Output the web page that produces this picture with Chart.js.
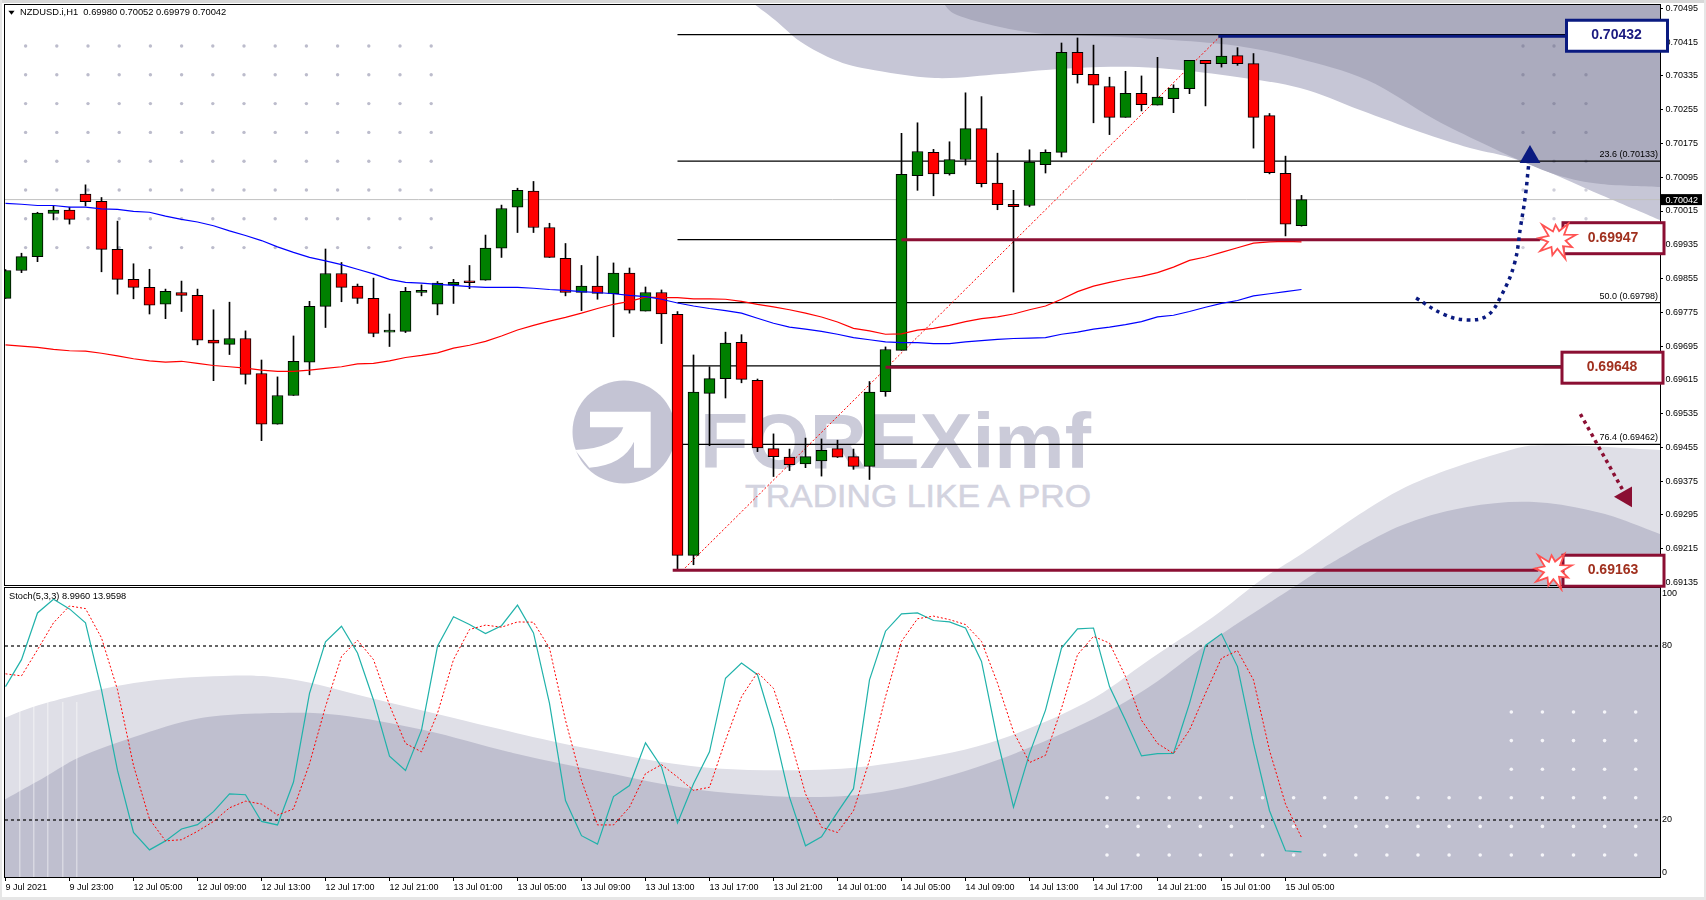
<!DOCTYPE html>
<html>
<head>
<meta charset="utf-8">
<title>NZDUSD.i,H1</title>
<script src="https://cdn.jsdelivr.net/npm/chart.js@4/dist/chart.umd.min.js"></script>
<style>
html,body{margin:0;padding:0;background:#fff;overflow:hidden}
#page{position:relative;width:1706px;height:900px;overflow:hidden;background:#fff}
#bg,#main,#stoch{position:absolute;left:0}
#bg{top:0;z-index:1}
#stoch{top:587px;z-index:2}
#main{top:0;z-index:3}
</style>
</head>
<body>
<div id="page">
<svg id="bg" width="1706" height="900" xmlns="http://www.w3.org/2000/svg"></svg>
<canvas id="stoch" width="1706" height="313"></canvas>
<canvas id="main" width="1706" height="592"></canvas>
</div>
<script>
// candles, one entry per hour
const opens=[0.69808,0.69874,0.69907,0.70009,0.70017,0.70055,0.70038,0.69924,0.69853,0.69834,0.69794,0.69822,0.69815,0.69709,0.69699,0.69713,0.69630,0.69510,0.69578,0.69657,0.69789,0.69867,0.69837,0.69808,0.69728,0.69730,0.69822,0.69794,0.69840,0.69846,0.69851,0.69927,0.70024,0.70062,0.69976,0.69903,0.69822,0.69837,0.69819,0.69868,0.69778,0.69822,0.69770,0.69199,0.69583,0.69618,0.69704,0.69614,0.69452,0.69432,0.69416,0.69423,0.69452,0.69433,0.69410,0.69587,0.69685,0.70099,0.70154,0.70103,0.70137,0.70210,0.70081,0.70031,0.70028,0.70125,0.70154,0.70391,0.70339,0.70310,0.70237,0.70294,0.70266,0.70281,0.70305,0.70372,0.70364,0.70383,0.70364,0.70241,0.70104,0.69980];
const highs=[0.69876,0.69915,0.70012,0.70027,0.70024,0.70077,0.70047,0.69991,0.69890,0.69877,0.69830,0.69849,0.69830,0.69781,0.69799,0.69731,0.69662,0.69622,0.69719,0.69801,0.69925,0.69893,0.69842,0.69856,0.69771,0.69834,0.69840,0.69848,0.69853,0.69886,0.69958,0.70029,0.70069,0.70085,0.69986,0.69938,0.69886,0.69908,0.69892,0.69880,0.69835,0.69828,0.69777,0.69674,0.69646,0.69728,0.69722,0.69617,0.69487,0.69451,0.69477,0.69475,0.69472,0.69451,0.69611,0.69693,0.70199,0.70224,0.70161,0.70179,0.70295,0.70286,0.70152,0.70064,0.70160,0.70160,0.70413,0.70425,0.70408,0.70332,0.70346,0.70335,0.70379,0.70314,0.70372,0.70372,0.70432,0.70402,0.70388,0.70246,0.70145,0.70052];
const lows=[0.69808,0.69869,0.69895,0.69994,0.69984,0.70027,0.69871,0.69818,0.69807,0.69771,0.69760,0.69777,0.69698,0.69613,0.69675,0.69605,0.69471,0.69510,0.69578,0.69627,0.69739,0.69800,0.69796,0.69717,0.69694,0.69727,0.69814,0.69769,0.69796,0.69831,0.69851,0.69905,0.69964,0.69964,0.69905,0.69814,0.69779,0.69806,0.69717,0.69773,0.69778,0.69701,0.69163,0.69177,0.69459,0.69572,0.69608,0.69445,0.69386,0.69400,0.69407,0.69387,0.69431,0.69403,0.69379,0.69576,0.69685,0.70064,0.70051,0.70100,0.70124,0.70072,0.70018,0.69823,0.70025,0.70105,0.70143,0.70318,0.70224,0.70196,0.70237,0.70252,0.70266,0.70248,0.70293,0.70264,0.70356,0.70360,0.70164,0.70103,0.69956,0.69979];
const closes=[0.69874,0.69907,0.70010,0.70017,0.69995,0.70037,0.69924,0.69853,0.69834,0.69792,0.69825,0.69815,0.69709,0.69702,0.69713,0.69628,0.69510,0.69578,0.69659,0.69789,0.69867,0.69834,0.69808,0.69725,0.69732,0.69825,0.69827,0.69844,0.69846,0.69845,0.69927,0.70021,0.70064,0.69976,0.69905,0.69822,0.69837,0.69820,0.69868,0.69780,0.69822,0.69771,0.69199,0.69586,0.69618,0.69702,0.69616,0.69454,0.69433,0.69414,0.69433,0.69448,0.69432,0.69410,0.69586,0.69687,0.70102,0.70156,0.70103,0.70137,0.70210,0.70080,0.70030,0.70025,0.70131,0.70154,0.70391,0.70338,0.70313,0.70237,0.70294,0.70267,0.70285,0.70306,0.70372,0.70364,0.70382,0.70364,0.70237,0.70106,0.69984,0.70042];

// moving averages
const maBlue=[0.70033,0.70031,0.70028,0.70028,0.70024,0.70024,0.70020,0.70019,0.70014,0.70012,0.70003,0.69995,0.69989,0.69980,0.69968,0.69957,0.69945,0.69930,0.69917,0.69905,0.69897,0.69888,0.69877,0.69866,0.69853,0.69846,0.69844,0.69841,0.69839,0.69836,0.69834,0.69834,0.69834,0.69832,0.69829,0.69827,0.69824,0.69822,0.69819,0.69815,0.69812,0.69806,0.69797,0.69790,0.69784,0.69779,0.69773,0.69761,0.69749,0.69740,0.69735,0.69730,0.69723,0.69715,0.69710,0.69705,0.69703,0.69703,0.69701,0.69701,0.69705,0.69708,0.69711,0.69713,0.69714,0.69715,0.69723,0.69728,0.69735,0.69740,0.69746,0.69753,0.69764,0.69768,0.69777,0.69787,0.69796,0.69803,0.69814,0.69819,0.69824,0.69829];
const maRed=[0.69698,0.69695,0.69692,0.69687,0.69684,0.69683,0.69678,0.69672,0.69665,0.69660,0.69657,0.69659,0.69654,0.69649,0.69646,0.69643,0.69638,0.69635,0.69635,0.69638,0.69642,0.69646,0.69653,0.69654,0.69660,0.69668,0.69673,0.69679,0.69690,0.69697,0.69706,0.69719,0.69733,0.69744,0.69754,0.69763,0.69773,0.69784,0.69794,0.69801,0.69811,0.69810,0.69810,0.69807,0.69807,0.69806,0.69801,0.69794,0.69788,0.69781,0.69773,0.69764,0.69752,0.69737,0.69731,0.69723,0.69724,0.69733,0.69737,0.69744,0.69753,0.69760,0.69764,0.69771,0.69781,0.69790,0.69806,0.69824,0.69837,0.69846,0.69854,0.69860,0.69869,0.69882,0.69898,0.69906,0.69917,0.69928,0.69939,0.69942,0.69943,0.69942];

// stochastic (5,3,3)
const stochMain=[66.0,75.3,91.4,96.1,92.8,88.0,64.9,37.1,15.7,9.7,12.8,16.9,18.4,22.9,29.0,28.7,19.5,18.3,33.1,63.7,81.4,86.8,77.6,61.4,42.0,37.1,51.0,79.9,90.1,87.4,84.3,87.0,94.1,84.5,60.2,26.7,14.6,11.7,28.1,31.9,46.6,38.3,19.0,32.5,43.5,68.9,74.1,70.1,51.6,27.9,11.1,14.2,22.7,30.8,68.3,85.1,91.1,91.4,88.8,88.3,86.2,74.7,47.5,24.4,42.9,57.9,79.3,85.9,86.2,66.0,54.4,42.1,42.9,43.0,60.2,80.2,84.2,72.9,46.4,23.2,9.4,8.996];
const stochSignal=[70.4,69.7,78.7,88.0,93.8,92.9,82.8,64.9,38.8,20.3,12.8,13.2,16.1,19.5,24.2,26.5,25.5,21.7,23.8,39.4,59.1,76.4,82.0,75.3,59.6,46.4,43.5,56.8,75.3,85.7,87.2,86.5,88.3,88.2,79.3,54.4,33.6,18.3,18.3,24.4,36.0,39.1,34.8,30.2,31.3,47.5,62.5,70.9,65.4,48.7,29.0,17.5,15.7,23.2,40.6,62.5,81.6,89.4,90.3,89.1,87.4,81.6,67.2,50.4,39.8,42.3,58.5,77.0,83.3,81.0,69.5,54.4,46.4,42.9,51.0,63.7,75.8,78.4,68.3,44.0,25.5,13.96];
const stochLevels=[80,20];
const stochTickPos=[98,80,20,2];
const stochTickText=['100','80','20','0'];

// axes
const priceTicks=[0.70495,0.70415,0.70335,0.70255,0.70175,0.70095,0.70015,0.69935,0.69855,0.69775,0.69695,0.69615,0.69535,0.69455,0.69375,0.69295,0.69215,0.69135];
const timeTickIdx=[0,4,8,12,16,20,24,28,32,36,40,44,48,52,56,60,64,68,72,76,80];
const timeLabels=['9 Jul 2021','9 Jul 23:00','12 Jul 05:00','12 Jul 09:00','12 Jul 13:00','12 Jul 17:00','12 Jul 21:00','13 Jul 01:00','13 Jul 05:00','13 Jul 09:00','13 Jul 13:00','13 Jul 17:00','13 Jul 21:00','14 Jul 01:00','14 Jul 05:00','14 Jul 09:00','14 Jul 13:00','14 Jul 17:00','14 Jul 21:00','15 Jul 01:00','15 Jul 05:00'];

// fibo levels and drawn lines
const lastPrice=0.70042;
const fibLevels=[0.70433,0.70133,0.69947,0.69798,0.69648,0.69462];
const fibTexts=[null,'23.6 (0.70133)',null,'50.0 (0.69798)',null,'76.4 (0.69462)'];
const trendX=[42.3,76];
const trendY=[0.69163,0.70432];
const thickLevels=[0.70429,0.69947,0.69645,0.69164];
const thickFrom=[75.8,56,55,41.7];
const thickTo=[97.5,95.9,97.3,95.8];
const thickColors=['#0a1a80','#8b0f33','#8b0f33','#8b0f33'];
const boxTexts=['0.70432','0.69947','0.69648','0.69163'];
const burstX=[null,96.95,null,96.7];
const arrowUpX=[88.16,89.9,91.35,92.6,93.45,94.3,94.7,95.0,95.2,95.28];
const arrowUpY=[0.69809,0.69770,0.69757,0.69767,0.69812,0.69889,0.69980,0.70053,0.70125,0.70143];
const arrowDownX=[98.43,101.08,101.28];
const arrowDownY=[0.69534,0.69354,0.69338];

const X_MIN=-0.03125, X_MAX=103.40625;
const FONT='"Liberation Sans", Arial, sans-serif';
Chart.defaults.font.family=FONT;
Chart.defaults.font.size=9;
Chart.defaults.color='#000';

function smoothPath(p){
  let d='M'+p[0][0]+','+p[0][1];
  for(let i=0;i<p.length-1;i++){
    const a=p[Math.max(i-1,0)],b=p[i],c=p[i+1],e=p[Math.min(i+2,p.length-1)];
    d+=' C'+(b[0]+(c[0]-a[0])/6)+','+(b[1]+(c[1]-a[1])/6)+' '+(c[0]-(e[0]-b[0])/6)+','+(c[1]-(e[1]-b[1])/6)+' '+c[0]+','+c[1];
  }
  return d;
}

// background picture: curved bands, dots and watermark
function drawBackground(){
  const upperLight=[[754,4],[775,20],[801,42],[835,60],[868,69],[935,78],[1000,74],[1046,70],[1100,67],[1158,68],[1230,76],[1300,88],[1360,110],[1420,132],[1470,148],[1521,161],[1601,195],[1660,220]];
  const upperDark=[[944,4],[957,15],[1000,27],[1046,34],[1120,37],[1200,42],[1250,48],[1300,59],[1367,80],[1434,119],[1480,142],[1521,161],[1560,176],[1601,184],[1660,187]];
  const lowerLight=[[4,718],[46,703],[134,683],[223,676],[290,679],[379,700],[491,727],[580,747],[700,767],[809,770],[892,763],[989,743],[1085,703],[1149,660],[1213,617],[1261,580],[1300,555],[1400,490],[1500,453],[1551,445],[1660,450]];
  const lowerDark=[[4,800],[45,777],[80,757],[134,737],[201,718],[277,713],[339,715],[424,730],[513,753],[603,772],[700,790],[809,797],[892,790],[989,763],[1085,723],[1149,687],[1213,640],[1300,583],[1333,562],[1400,526],[1467,507],[1534,502],[1601,513],[1660,534]];
  let s='';
  s+='<rect x="0" y="0" width="1706" height="3" fill="#d8d8d8"/>';
  s+='<rect x="0" y="897" width="1706" height="3" fill="#e6e6e6"/>';
  s+='<rect x="1704" y="0" width="2" height="900" fill="#e6e6e6"/>';
  s+='<rect x="0" y="0" width="2" height="900" fill="#e6e6e6"/>';
  s+='<path d="'+smoothPath(upperLight)+' L1660,4 Z" fill="#c6c6d6"/>';
  s+='<path d="'+smoothPath(upperDark)+' L1660,4 Z" fill="#ababbe"/>';
  s+='<path d="'+smoothPath(lowerLight)+' L1660,877 L4,877 Z" fill="#dfdfe7"/>';
  s+='<path d="'+smoothPath(lowerDark)+' L1660,877 L4,877 Z" fill="#bfbfcf"/>';
  // pale stripes at the left of the lower panel
  [19,33,47,62,76].forEach(x=>{s+='<rect x="'+x+'" y="702" width="1.5" height="175" fill="#fff" opacity="0.4"/>';});
  // logo
  s+='<circle cx="624" cy="432" r="51.5" fill="#c4c4d4"/>';
  s+='<path d="M590,411.7 L650.7,411.7 L650.7,467.7 L634,467.7 L634,441.7 Q623.3,465 589.3,467.7 L575,450 Q616.7,448.3 623.3,427.3 L590,427.3 Z" fill="#fff"/>';
  s+='<text x="700" y="468" font-family="Liberation Sans" font-weight="bold" font-size="78" fill="#cbcbd9" textLength="391" lengthAdjust="spacingAndGlyphs">FOREXimf</text>';
  s+='<text x="745" y="507" font-family="Liberation Sans" font-size="32" fill="#d3d3df" stroke="#d3d3df" stroke-width="0.5" textLength="346" lengthAdjust="spacingAndGlyphs">TRADING LIKE A PRO</text>';
  // dots
  for(let c=0;c<14;c++)for(let r=0;r<8;r++)
    s+='<circle cx="'+(25.6+31.2*c)+'" cy="'+(46+28.8*r)+'" r="1.7" fill="#bcbccc"/>';
  [1523,1554,1586].forEach(x=>{for(let r=0;r<8;r++){
    if(x===1586&&r===0)continue;
    const y=46+28.8*r;
    s+='<circle cx="'+x+'" cy="'+y+'" r="1.7" fill="'+(y<165?'#8f8fa6':'#cfcfda')+'"/>';
  }});
  for(let c=0;c<18;c++)for(let r=0;r<6;r++){
    if(r>=3&&c<13)continue;
    s+='<circle cx="'+(1107+31.1*c)+'" cy="'+(855-28.6*r)+'" r="1.8" fill="#f6f6fa"/>';
  }
  document.getElementById('bg').innerHTML=s;
}
drawBackground();

function pts(xs,ys){return xs.map((x,i)=>({x:x,y:ys[i]}));}
function series(v){return v.map((y,i)=>({x:i,y:y}));}
function flatLine(v,from,to,color,width,order,dash){
  return {type:'line',data:[{x:from,y:v},{x:to,y:v}],borderColor:color,borderWidth:width,borderDash:dash||[],pointRadius:0,order:order};
}

const bodyColors=opens.map((o,i)=>closes[i]>o?'#008000':(closes[i]<o?'#ff0000':'#000'));

function burst(ctx,cx,cy){
  const spikes=[20,9,17,9,21,9,16,9,20,9,18,9,21,9,15,9,20,9];
  ctx.beginPath();
  spikes.forEach((r,i)=>{
    const a=i/spikes.length*Math.PI*2-0.25;
    const x=cx+r*Math.cos(a),y=cy+r*Math.sin(a);
    if(i===0)ctx.moveTo(x,y);else ctx.lineTo(x,y);
  });
  ctx.closePath();
  ctx.fillStyle='#fff';
  ctx.fill();
  ctx.lineWidth=1.8;
  ctx.strokeStyle='#ff5252';
  ctx.stroke();
}

const mainOverlay={
  id:'mainOverlay',
  afterDraw(chart){
    const ctx=chart.ctx,x=chart.scales.x,y=chart.scales.y,a=chart.chartArea;
    ctx.save();
    // frame
    ctx.strokeStyle='#000';
    ctx.lineWidth=1;
    ctx.strokeRect(4.5,4.5,1656,581);
    ctx.beginPath();
    ctx.moveTo(4.5,587.5);ctx.lineTo(1660.5,587.5);
    ctx.stroke();
    // header text
    ctx.fillStyle='#000';
    ctx.beginPath();
    ctx.moveTo(8.4,10.7);ctx.lineTo(14.6,10.7);ctx.lineTo(11.5,14.7);ctx.closePath();ctx.fill();
    ctx.font='9.35px '+FONT;
    ctx.textBaseline='middle';
    ctx.textAlign='left';
    ctx.fillText('NZDUSD.i,H1  0.69980 0.70052 0.69979 0.70042',20,12.7);
    // fibo captions
    ctx.font='9px '+FONT;
    ctx.textAlign='right';
    fibLevels.forEach((v,i)=>{
      if(fibTexts[i])ctx.fillText(fibTexts[i],a.right-2,y.getPixelForValue(v)-6.5);
    });
    // last price flag
    const py=y.getPixelForValue(lastPrice);
    ctx.fillStyle='#000';
    ctx.fillRect(1661,py-5.5,41,11);
    ctx.fillStyle='#fff';
    ctx.textAlign='left';
    ctx.fillText(lastPrice.toFixed(5),1665.5,py+0.5);
    // level boxes
    const boxLeft=[1566.5,1563,1562,1563];
    const boxShift=[-0.5,-1.5,0.5,0.5];
    boxTexts.forEach((t,i)=>{
      const cy=y.getPixelForValue(thickLevels[i])+boxShift[i];
      ctx.fillStyle='#fff';
      ctx.fillRect(boxLeft[i],cy-15.5,101,31);
      ctx.lineWidth=3;
      ctx.strokeStyle=thickColors[i];
      ctx.strokeRect(boxLeft[i],cy-15.5,101,31);
      ctx.font='bold 14px '+FONT;
      ctx.textAlign='center';
      ctx.textBaseline='middle';
      ctx.fillStyle=i===0?'#1a1a80':'#a0301e';
      ctx.fillText(t,boxLeft[i]+50,cy-0.5);
    });
    burstX.forEach((bx,i)=>{
      if(bx!==null)burst(ctx,x.getPixelForValue(bx),y.getPixelForValue(thickLevels[i]));
    });
    ctx.restore();
  }
};

new Chart(document.getElementById('main'),{
  type:'bar',
  data:{datasets:[
    ...fibLevels.map(v=>flatLine(v,42,X_MAX,'#000',1.2,6)),
    flatLine(lastPrice,X_MIN,X_MAX,'#c0c0c0',1,7),
    {type:'line',data:pts(trendX,trendY),borderColor:'#ff0000',borderWidth:1,borderDash:[2,2],pointRadius:0,order:5},
    {data:opens.map((o,i)=>({x:i,y:[lows[i],highs[i]]})),backgroundColor:'#000',barThickness:1,grouped:false,order:4},
    {data:opens.map((o,i)=>({x:i,y:[o,closes[i]]})),backgroundColor:bodyColors,borderColor:'#000',borderWidth:1,borderSkipped:false,barThickness:11,minBarLength:2,grouped:false,order:3},
    {type:'line',data:series(maBlue),borderColor:'#0000ff',borderWidth:1.2,pointRadius:0,order:2},
    {type:'line',data:series(maRed),borderColor:'#ff0000',borderWidth:1.2,pointRadius:0,order:2},
    ...thickLevels.map((v,i)=>({type:'line',data:[{x:thickFrom[i],y:v},{x:thickTo[i],y:v}],borderColor:thickColors[i],borderWidth:3,pointRadius:0,order:1})),
    {type:'line',data:pts(arrowUpX,arrowUpY),borderColor:'#0a1a80',borderWidth:3.5,borderDash:[3.5,4.5],tension:0.4,order:0,
      pointRadius:arrowUpX.map((v,i)=>i===arrowUpX.length-1?12:0),pointStyle:'triangle',pointBackgroundColor:'#0a1a80',pointBorderWidth:0},
    {type:'line',data:pts(arrowDownX,arrowDownY),borderColor:'#8b0f33',borderWidth:3.5,borderDash:[3.5,4],order:0,
      pointRadius:arrowDownX.map((v,i)=>i===arrowDownX.length-1?12:0),pointStyle:'triangle',pointRotation:150,pointBackgroundColor:'#8b0f33',pointBorderWidth:0}
  ]},
  options:{
    responsive:false,
    animation:false,
    layout:{autoPadding:false,padding:{left:5,top:4,right:0,bottom:7}},
    plugins:{legend:{display:false},tooltip:{enabled:false}},
    scales:{
      x:{type:'linear',display:false,offset:false,min:X_MIN,max:X_MAX,grid:{display:false}},
      y:{
        position:'right',min:0.69129,max:0.705054,
        grid:{drawOnChartArea:false,tickLength:3,color:'#000'},
        border:{display:false},
        ticks:{padding:2.5,autoSkip:false,callback:v=>v.toFixed(5)},
        afterBuildTicks(s){s.ticks=priceTicks.map(v=>({value:v}));},
        afterFit(s){s.width=46;s.paddingTop=0;s.paddingBottom=0;}
      }
    }
  },
  plugins:[mainOverlay]
});

const stochOverlay={
  id:'stochOverlay',
  afterDraw(chart){
    const ctx=chart.ctx;
    ctx.save();
    ctx.strokeStyle='#000';
    ctx.lineWidth=1;
    ctx.strokeRect(4.5,0.5,1656,290);
    ctx.fillStyle='#000';
    ctx.font='9.25px '+FONT;
    ctx.textBaseline='middle';
    ctx.textAlign='left';
    ctx.fillText('Stoch(5,3,3) 8.9960 13.9598',9,9.5);
    ctx.restore();
  }
};

new Chart(document.getElementById('stoch'),{
  type:'line',
  data:{datasets:[
    ...stochLevels.map(v=>flatLine(v,X_MIN,X_MAX,'#000',1.2,3,[3,3])),
    {data:series(stochMain),borderColor:'#20b2aa',borderWidth:1.2,pointRadius:0,order:2},
    {data:series(stochSignal),borderColor:'#ff0000',borderWidth:1,borderDash:[2,2],pointRadius:0,order:1}
  ]},
  options:{
    responsive:false,
    animation:false,
    layout:{autoPadding:false,padding:{left:5,top:1,right:0,bottom:0}},
    plugins:{legend:{display:false},tooltip:{enabled:false}},
    scales:{
      x:{
        type:'linear',offset:false,min:X_MIN,max:X_MAX,
        grid:{drawOnChartArea:false,tickLength:3,color:'#000'},
        border:{display:false},
        ticks:{align:'start',autoSkip:false,maxRotation:0,padding:1,callback:v=>timeLabels[timeTickIdx.indexOf(v)]},
        afterBuildTicks(s){s.ticks=timeTickIdx.map(v=>({value:v}));},
        afterFit(s){s.height=22;s.paddingLeft=0;s.paddingRight=0;}
      },
      y:{
        position:'right',min:0,max:100,
        grid:{drawOnChartArea:false,drawTicks:false},
        border:{display:false},
        ticks:{padding:2,autoSkip:false,callback:v=>stochTickText[stochTickPos.indexOf(v)]},
        afterBuildTicks(s){s.ticks=stochTickPos.map(v=>({value:v}));},
        afterFit(s){s.width=46;s.paddingTop=0;s.paddingBottom=0;}
      }
    }
  },
  plugins:[stochOverlay]
});
</script>
</body>
</html>
